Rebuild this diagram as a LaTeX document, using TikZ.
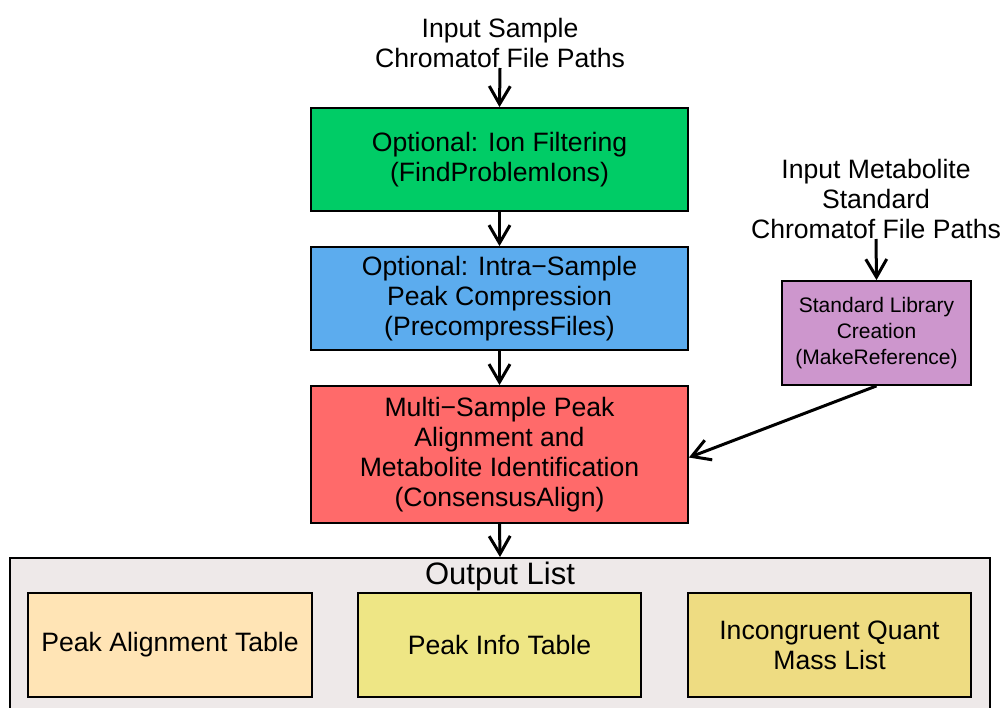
\documentclass[tikz,border=0pt]{standalone}
\usepackage{fontspec}
\setmainfont{Liberation Sans}
\usetikzlibrary{arrows.meta}
\definecolor{cgreen}{RGB}{0,204,102}
\definecolor{cblue}{RGB}{92,172,238}
\definecolor{cred}{RGB}{255,106,106}
\definecolor{cpurple}{RGB}{205,150,205}
\definecolor{cgray}{RGB}{238,233,233}
\definecolor{cmoc}{RGB}{255,228,181}
\definecolor{ckhaki}{RGB}{238,230,133}
\definecolor{cgold}{RGB}{238,220,130}
\begin{document}
\begin{tikzpicture}[x=1pt,y=-1pt,
  box/.style={draw=black, line width=1.8pt, align=center, inner sep=0pt},
  txt/.style={align=center, inner sep=0pt, font=\fontsize{26.6}{30}\selectfont},
  small/.style={align=center, inner sep=0pt, font=\fontsize{21}{26}\selectfont},
  arr/.style={-{Straight Barb[length=18pt,width=21pt]}, line width=3pt}]
\useasboundingbox (0,0) rectangle (1003,707);
\clip (0,0) rectangle (1003,707);
% output container
\node[draw=black, line width=1.8pt, fill=cgray, minimum width=980pt, minimum height=180pt, anchor=north, inner sep=0pt] (out) at (500,557) {};
\node[txt, font=\fontsize{31}{34}\selectfont] (outtitle) at (500,576) {Output List};
\node[box, txt, fill=cmoc, minimum width=284pt, minimum height=104pt] (pat) at (170,645) {Peak Alignment Table};
\node[box, txt, fill=ckhaki, minimum width=283pt, minimum height=104pt] (pit) at (499.5,645) {Peak Info Table};
\node[box, txt, fill=cgold, minimum width=283pt, minimum height=104pt] (iqm) at (829.5,645) {Incongruent Quant\\Mass List};
% main boxes
\node[txt, anchor=south] (in1) at (500,68) {Input Sample\\Chromatof File Paths};
\node[box, txt, fill=cgreen, minimum width=377pt, minimum height=103pt] (ion) at (499.5,159.5) {Optional: Ion Filtering\\(FindProblemIons)};
\node[box, txt, fill=cblue, minimum width=377pt, minimum height=103pt] (pre) at (499.5,298.5) {Optional: Intra−Sample\\Peak Compression\\(PrecompressFiles)};
\node[box, txt, fill=cred, minimum width=377pt, minimum height=137pt] (ali) at (499.5,454.5) {Multi−Sample Peak\\Alignment and\\Metabolite Identification\\(ConsensusAlign)};
\node[txt, anchor=south] (in2) at (876,239) {Input Metabolite\\Standard\\Chromatof File Paths};
\node[box, small, fill=cpurple, minimum width=189pt, minimum height=104pt] (ref) at (876.5,333) {Standard Library\\Creation\\(MakeReference)};
% arrows
\draw[arr] (in1.south) -- (ion.north);
\draw[arr] (ion.south) -- (pre.north);
\draw[arr] (pre.south) -- (ali.north);
\draw[arr] (ali.south) -- (out.north);
\draw[arr] (in2.south) -- (ref.north);
\draw[arr] (ref.south) -- ([yshift=-3pt]ali.east);
\end{tikzpicture}
\end{document}
